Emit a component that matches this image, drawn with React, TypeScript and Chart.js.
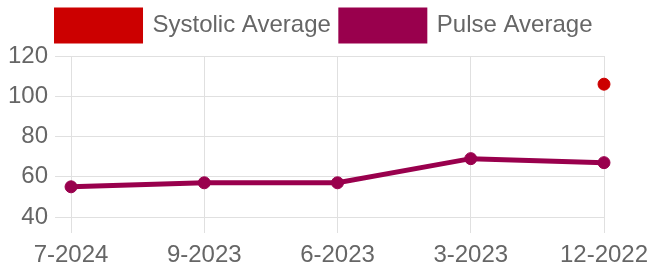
import React, { useEffect, useRef } from "react";
import { Chart, registerables } from "chart.js";

Chart.register(...registerables);

const categories = ["7-2024", "9-2023", "6-2023", "3-2023", "12-2022"];
const systolicValues: (number | null)[] = [null, null, null, null, 106];
const pulseValues: (number | null)[] = [55, 57, 57, 69, 67];
const yTicks = [40, 60, 80, 100, 120];

const legendSpacing = {
  id: "legendSpacing",
  beforeInit(chart: any) {
    const orig = chart.legend.fit;
    chart.legend.fit = function () {
      orig.bind(this)();
      this.height += 5;
    };
  },
};

export default function App() {
  const ref = useRef<HTMLCanvasElement | null>(null);
  useEffect(() => {
    document.body.style.margin = "0";
    const ctx = ref.current!;
    const font = { family: "'Liberation Sans', Arial, sans-serif", size: 24 };
    const chart = new Chart(ctx, {
      type: "line",
      data: {
        labels: categories,
        datasets: [
          {
            label: "Systolic Average",
            data: systolicValues,
            borderColor: "#cc0000",
            backgroundColor: "#cc0000",
            borderWidth: 5,
            pointRadius: 6,
            pointBorderWidth: 1,
            pointBackgroundColor: "#cc0000",
            pointBorderColor: "#cc0000",
            fill: false,
          },
          {
            label: "Pulse Average",
            data: pulseValues,
            borderColor: "#99004d",
            backgroundColor: "#99004d",
            borderWidth: 5,
            pointRadius: 6,
            pointBorderWidth: 1,
            pointBackgroundColor: "#99004d",
            pointBorderColor: "#99004d",
            fill: false,
          },
        ],
      },
      plugins: [legendSpacing],
      options: {
        animation: false,
        responsive: false,
        maintainAspectRatio: false,
        layout: { padding: { left: 1, right: 2, top: 0, bottom: 0 } },
        plugins: {
          tooltip: { enabled: false },
          legend: {
            display: true,
            labels: {
              boxWidth: 84,
              boxHeight: 31,
              color: "#666",
              font,
              padding: 10,
            },
          },
        },
        scales: {
          x: {
            afterFit: (axis: any) => {
              axis.height = 50;
              axis.paddingRight = 46;
            },
            grid: { color: "#e0e0e0", tickLength: 16 },
            border: { color: "#e0e0e0" },
            ticks: { color: "#666", font, maxRotation: 0, padding: 8 },
          },
          y: {
            min: 40,
            max: 120,
            afterBuildTicks: (axis: any) => {
              axis.ticks = yTicks.map((v) => ({ value: v }));
            },
            grid: { color: "#e0e0e0", tickLength: 16 },
            border: { color: "#e0e0e0" },
            ticks: { color: "#666", font, padding: 7 },
          },
        },
      },
    });
    return () => chart.destroy();
  }, []);
  return (
    <div style={{ position: "fixed", left: 0, top: 0, width: 650, height: 267 }}>
      <canvas ref={ref} width={650} height={267} style={{ width: 650, height: 267 }} />
    </div>
  );
}
